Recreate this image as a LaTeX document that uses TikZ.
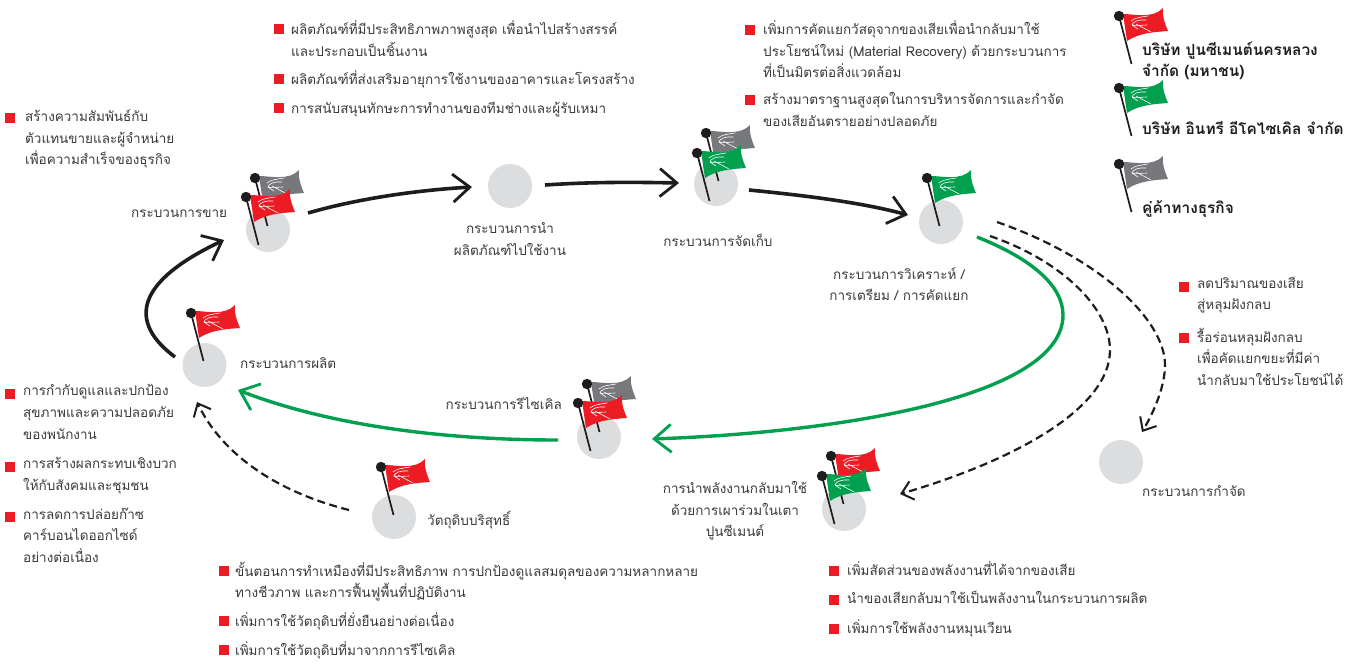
\documentclass[tikz,border=0pt]{standalone}
\usepackage{fontspec}
\setmainfont[Script=Thai]{Loma}
\usetikzlibrary{arrows.meta}
\definecolor{flagred}{HTML}{ED1C24}
\definecolor{flaggreen}{HTML}{00A04F}
\definecolor{flaggray}{HTML}{77787B}
\definecolor{dotgray}{HTML}{DCDDDE}
\definecolor{txt}{HTML}{3A3A3A}
\definecolor{ink}{HTML}{1E1C1D}
\tikzset{
  stage/.style={circle,fill=dotgray,minimum size=44pt,inner sep=0pt},
  lab/.style={font=\fontsize{13.5}{21.6}\selectfont,text=txt,inner sep=0pt,align=center},
  blk/.style={font=\fontsize{13.5}{21.6}\selectfont,text=txt,inner sep=0pt,align=left,anchor=north west},
  leg/.style={font=\fontsize{15.4}{21}\selectfont\bfseries,text=ink,inner sep=0pt,align=left,anchor=north west},
  sq/.style={fill=flagred,minimum size=9.5pt,inner sep=0pt},
  flow/.style={draw=ink,line width=3.6pt,-{Straight Barb[length=17pt,width=28pt,line width=2.8pt]}},
  greenflow/.style={draw=flaggreen,line width=3.4pt,-{Straight Barb[length=17pt,width=28pt,line width=2.8pt]}},
  dashflow/.style={draw=ink,line width=2.2pt,dash pattern=on 8pt off 4.5pt,-{Straight Barb[length=11pt,width=19pt,line width=2pt]}}
}
\newcommand{\flagmark}[3]{%
  \begin{scope}[shift={(#1,#2)}]
    \fill[#3] (4,-2) .. controls (15,-2) and (34,3) .. (44,-8)
      .. controls (43,0) and (46,8) .. (49,15)
      .. controls (35,16) and (20,17) .. (8,25) -- cycle;
    \draw[white,line width=.6pt,line cap=round]
      (12,5) .. controls (15,2) and (22,1) .. (29,0)
      (13,9) .. controls (13,6) and (20,3) .. (27,4)
      (13,9) .. controls (18,10) and (24,9) .. (28,9)
      (17,8) -- (32,16)
      (13,9) -- (19,13);
    \draw[ink,line width=1.7pt] (0,0) -- (12.5,48);
    \fill[ink] (0,0) circle (5.2pt);
  \end{scope}}
\newcommand{\bulletblock}[6]{%
  \node[sq] (#1s) at (#2,#3) {};
  \node[blk] (#1t) at (#4,{#5+2.5}) {#6};}
\begin{document}
\begin{tikzpicture}[x=1pt,y=-1pt]
\useasboundingbox (0,0) rectangle (1359,662);
% stages
\node[stage] (sales) at (268,230) {};
\node[stage] (prod) at (204.5,365) {};
\node[stage] (use) at (510,186) {};
\node[stage] (store) at (716,184) {};
\node[stage] (anal) at (941,222) {};
\node[stage] (recy) at (599,437) {};
\node[stage] (raw) at (394,517) {};
\node[stage] (energy) at (844,509) {};
\node[stage] (disp) at (1121,462) {};
% flags
\flagmark{255}{178}{flaggray}
\flagmark{246}{197}{flagred}
\flagmark{191}{313}{flagred}
\flagmark{706}{133}{flaggray}
\flagmark{697}{153}{flaggreen}
\flagmark{927}{178}{flaggreen}
\flagmark{587}{384}{flaggray}
\flagmark{578}{403}{flagred}
\flagmark{381}{467}{flagred}
\flagmark{831}{456}{flagred}
\flagmark{822}{476}{flaggreen}
\flagmark{1119}{16}{flagred}
\flagmark{1119}{88}{flaggreen}
\flagmark{1119}{164}{flaggray}
% connector ends
\coordinate (a1) at (175,357); \coordinate (a2) at (224,240);
\coordinate (b1) at (308,213); \coordinate (b2) at (472,187);
\coordinate (c1) at (545,185); \coordinate (c2) at (679,183);
\coordinate (d1) at (749,190); \coordinate (d2) at (908,215);
\coordinate (e1) at (977,237); \coordinate (e2) at (652,439);
\coordinate (f1) at (558,440); \coordinate (f2) at (238,390);
\coordinate (g1) at (349,510); \coordinate (g2) at (197,402);
\coordinate (h1) at (990,236); \coordinate (h2) at (900,494);
\coordinate (i1) at (997,222); \coordinate (i2) at (1142,432);
% connectors
\draw[flow] (a1) .. controls (128,322) and (135,282) .. (a2);
\draw[flow] (b1) .. controls (360,198) and (420,190) .. (b2);
\draw[flow] (c1) .. controls (590,182) and (630,182) .. (c2);
\draw[flow] (d1) .. controls (800,195) and (860,202) .. (d2);
\draw[greenflow] (e1) .. controls (1030,258) and (1063,285) .. (1063,315)
  .. controls (1063,395) and (850,432) .. (e2);
\draw[greenflow] (f1) .. controls (430,440) and (320,422) .. (f2);
\draw[dashflow] (g1) .. controls (270,490) and (220,450) .. (g2);
\draw[dashflow] (h1) .. controls (1065,262) and (1110,310) .. (1110,350)
  .. controls (1110,410) and (1010,462) .. (h2);
\draw[dashflow] (i1) .. controls (1100,258) and (1165,320) .. (1165,365)
  .. controls (1165,385) and (1155,410) .. (i2);
% stage labels
\node[lab,anchor=west] (l1) at (131,214) {กระบวนการขาย};
\node[lab,anchor=west] (l2) at (240,363) {กระบวนการผลิต};
\node[lab] (l3) at (510,239) {กระบวนการนำ\\ผลิตภัณฑ์ไปใช้งาน};
\node[lab] (l4) at (718,240) {กระบวนการจัดเก็บ};
\node[lab] (l5) at (899,284) {กระบวนการวิเคราะห์ /\\การเตรียม / การคัดแยก};
\node[lab,anchor=east] (l6) at (562,403) {กระบวนการรีไซเคิล};
\node[lab,anchor=west] (l7) at (427,520) {วัตถุดิบบริสุทธิ์};
\node[lab] (l8) at (735,511) {การนำพลังงานกลับมาใช้\\ด้วยการเผาร่วมในเตา\\ปูนซีเมนต์};
\node[lab,anchor=west] (l9) at (1142,491) {กระบวนการกำจัด};
% legend
\node[leg] (k1) at (1142,42) {บริษัท ปูนซีเมนต์นครหลวง\\จำกัด (มหาชน)};
\node[leg] (k2) at (1142,121) {บริษัท อินทรี อีโคไซเคิล จำกัด};
\node[leg] (k3) at (1142,200) {คู่ค้าทางธุรกิจ};
% bullet lists
\bulletblock{a}{279}{29}{291}{18}{ผลิตภัณฑ์ที่มีประสิทธิภาพภาพสูงสุด เพื่อนำไปสร้างสรรค์\\และประกอบเป็นชิ้นงาน}
\bulletblock{b}{279}{79}{291}{68}{ผลิตภัณฑ์ที่ส่งเสริมอายุการใช้งานของอาคารและโครงสร้าง}
\bulletblock{c}{279}{108}{291}{99}{การสนับสนุนทักษะการทำงานของทีมช่างและผู้รับเหมา}
\bulletblock{d}{750}{30}{763}{18}{เพิ่มการคัดแยกวัสดุจากของเสียเพื่อนำกลับมาใช้\\ประโยชน์ใหม่ (Material Recovery) ด้วยกระบวนการ\\ที่เป็นมิตรต่อสิ่งแวดล้อม}
\bulletblock{e}{750}{100}{763}{90}{สร้างมาตราฐานสูงสุดในการบริหารจัดการและกำจัด\\ของเสียอันตรายอย่างปลอดภัย}
\bulletblock{f}{10}{118}{25}{107}{สร้างความสัมพันธ์กับ\\ตัวแทนขายและผู้จำหน่าย\\เพื่อความสำเร็จของธุรกิจ}
\bulletblock{g}{10}{394}{23}{382}{การกำกับดูแลและปกป้อง\\สุขภาพและความปลอดภัย\\ของพนักงาน}
\bulletblock{h}{10}{467}{23}{455}{การสร้างผลกระทบเชิงบวก\\ให้กับสังคมและชุมชน}
\bulletblock{i}{10}{517}{23}{505}{การลดการปล่อยก๊าซ\\คาร์บอนไดออกไซด์\\อย่างต่อเนื่อง}
\bulletblock{j}{224}{571}{235}{559}{ขั้นตอนการทำเหมืองที่มีประสิทธิภาพ การปกป้องดูแลสมดุลของความหลากหลาย\\ทางชีวภาพ และการฟื้นฟูพื้นที่ปฏิบัติงาน}
\bulletblock{k}{224}{621}{235}{610}{เพิ่มการใช้วัตถุดิบที่ยั่งยืนอย่างต่อเนื่อง}
\bulletblock{l}{224}{650}{235}{639}{เพิ่มการใช้วัตถุดิบที่มาจากการรีไซเคิล}
\bulletblock{m}{834}{571}{847}{559}{เพิ่มสัดส่วนของพลังงานที่ได้จากของเสีย}
\bulletblock{n}{834}{600}{847}{588}{นำของเสียกลับมาใช้เป็นพลังงานในกระบวนการผลิต}
\bulletblock{o}{834}{629}{847}{617}{เพิ่มการใช้พลังงานหมุนเวียน}
\bulletblock{p}{1184}{287}{1197}{274}{ลดปริมาณของเสีย\\สู่หลุมฝังกลบ}
\bulletblock{q}{1184}{338}{1197}{325}{รื้อร่อนหลุมฝังกลบ\\เพื่อคัดแยกขยะที่มีค่า\\นำกลับมาใช้ประโยชน์ได้}
\end{tikzpicture}
\end{document}
